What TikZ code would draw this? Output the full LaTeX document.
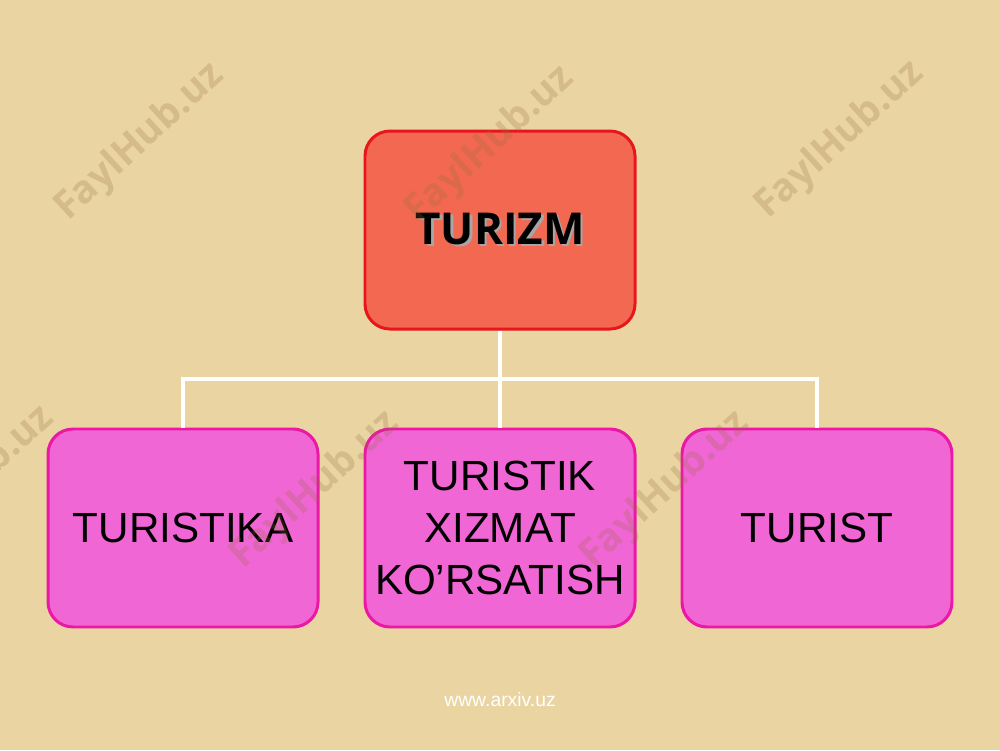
\documentclass[tikz,border=0pt]{standalone}
\usepackage{fontspec}
\setmainfont{Liberation Sans}
\newfontfamily\headfont{Open Sans}
\usetikzlibrary{positioning}

\definecolor{paper}{RGB}{234,212,162}
\definecolor{topfill}{RGB}{242,104,80}
\definecolor{topline}{RGB}{232,22,28}
\definecolor{subfill}{RGB}{240,102,212}
\definecolor{subline}{RGB}{234,24,164}
\definecolor{wmbrown}{RGB}{150,110,60}

\tikzset{
  topbox/.style={draw=topline, fill=topfill, line width=1.7pt, rounded corners=0.5cm,
                 minimum width=5.4cm, minimum height=3.96cm,
                 font=\headfont\bfseries\fontsize{25}{29}\selectfont},
  subbox/.style={draw=subline, fill=subfill, line width=1.7pt, rounded corners=0.5cm,
                 minimum width=5.4cm, minimum height=3.96cm, align=center,
                 font=\fontsize{24}{29.5}\selectfont},
  link/.style={draw=white, line width=2.4pt},
  wmark/.style={text=wmbrown, opacity=0.24, rotate=42.5,
                font=\headfont\bfseries\fontsize{22}{24}\selectfont},
}

\newcommand\shadowed[1]{\makebox[0pt][l]{\hspace{1.6pt}\raisebox{-1.6pt}{\color{black!35}#1}}#1}

\begin{document}
\begin{tikzpicture}
  % paper background
  \fill[paper] (0,0) rectangle (20,-15);
  \useasboundingbox (0,0) rectangle (20,-15);

  % boxes
  \node[topbox] (turizm) at (10,-4.6) {\shadowed{TURIZM}};
  \node[subbox, below=1.94cm of turizm] (xizmat) {TURISTIK\\XIZMAT\\KO’RSATISH};
  \node[subbox, left=0.88cm of xizmat] (turistika) {TURISTIKA};
  \node[subbox, right=0.88cm of xizmat] (turist) {TURIST};

  % connectors
  \path (turizm.south) -- (xizmat.north) coordinate[midway] (fork);
  \draw[link] (turizm.south) -- (xizmat.north);
  \draw[link] (turistika.north) |- (fork) -| (turist.north);

  % watermarks
  \foreach \wx/\wy [count=\i] in {2.8/-2.85, 9.8/-2.9, 16.8/-2.8, -0.6/-9.7, 6.3/-9.8, 13.3/-9.8}
    \node[wmark] (wm\i) at (\wx,\wy) {FaylHub.uz};

  \node[text=white, font=\fontsize{11}{13}\selectfont] (site) at (10,-14) {www.arxiv.uz};
\end{tikzpicture}
\end{document}
